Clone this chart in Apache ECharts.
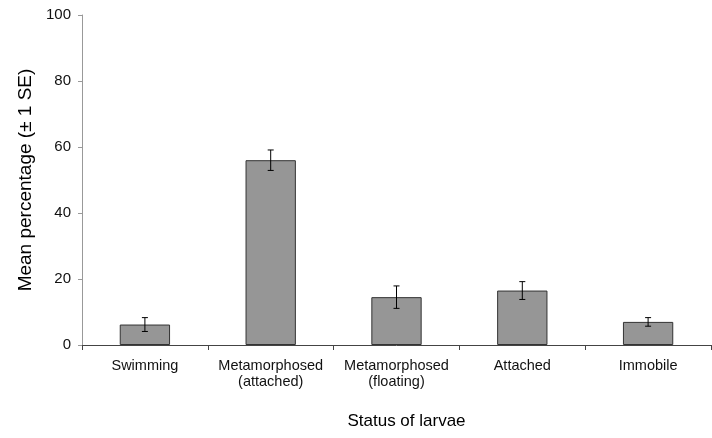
<!DOCTYPE html>
<html>
<head>
<meta charset="utf-8">
<script src="https://cdn.jsdelivr.net/npm/echarts@6/dist/echarts.min.js"></script>
<style>html,body{margin:0;padding:0;background:#fff}#c{width:712px;height:438px}</style>
</head>
<body>
<div id="c"></div>
<script>
var categories = ['Swimming', 'Metamorphosed\n(attached)', 'Metamorphosed\n(floating)', 'Attached', 'Immobile'];
var means = [6.2, 56, 14.5, 16.5, 7];
var se = [2.1, 3.1, 3.4, 2.7, 1.3];
var yTicks = [0, 20, 40, 60, 80, 100];

var errData = means.map(function (m, i) { return [i, m - se[i], m + se[i]]; });
var font = 'Liberation Sans, Arial, sans-serif';
var chart = echarts.init(document.getElementById('c'));
chart.setOption({
  animation: false,
  grid: { left: 82, right: 1, top: 15, bottom: 93 },
  xAxis: {
    type: 'category',
    data: categories,
    name: 'Status of larvae',
    nameLocation: 'middle',
    nameGap: 68,
    nameTextStyle: { fontFamily: font, fontSize: 17, color: '#000', padding: [0, 0, 0, 20] },
    axisLine: { lineStyle: { color: '#444', width: 1 } },
    axisTick: { show: true, length: 5, lineStyle: { color: '#444' } },
    axisLabel: { fontFamily: font, fontSize: 14.5, color: '#111', margin: 13, lineHeight: 16, interval: 0 }
  },
  yAxis: {
    type: 'value',
    min: 0, max: 100, interval: 20,
    name: 'Mean percentage (\u00b1 1 SE)',
    nameLocation: 'middle',
    nameGap: 47,
    nameTextStyle: { fontFamily: font, fontSize: 19, color: '#000' },
    axisLine: { show: true, lineStyle: { color: '#999', width: 1 } },
    axisTick: { show: true, length: 4, lineStyle: { color: '#999' } },
    axisLabel: { fontFamily: font, fontSize: 15, color: '#111', margin: 11,
      formatter: function (v) { return yTicks.indexOf(v) >= 0 ? String(v) : ''; } },
    splitLine: { show: false }
  },
  series: [
    {
      type: 'bar',
      data: means,
      barWidth: '40%',
      itemStyle: { color: '#969696', borderColor: '#333', borderWidth: 1 }
    },
    {
      type: 'custom',
      data: errData,
      z: 10,
      renderItem: function (params, api) {
        var x = api.value(0);
        var lo = api.coord([x, api.value(1)]);
        var hi = api.coord([x, api.value(2)]);
        var hw = 3;
        var st = { stroke: '#000', lineWidth: 1 };
        return {
          type: 'group',
          children: [
            { type: 'line', shape: { x1: lo[0], y1: lo[1], x2: hi[0], y2: hi[1] }, style: st },
            { type: 'line', shape: { x1: lo[0] - hw, y1: lo[1], x2: lo[0] + hw, y2: lo[1] }, style: st },
            { type: 'line', shape: { x1: hi[0] - hw, y1: hi[1], x2: hi[0] + hw, y2: hi[1] }, style: st }
          ]
        };
      }
    }
  ]
});
</script>
</body>
</html>
